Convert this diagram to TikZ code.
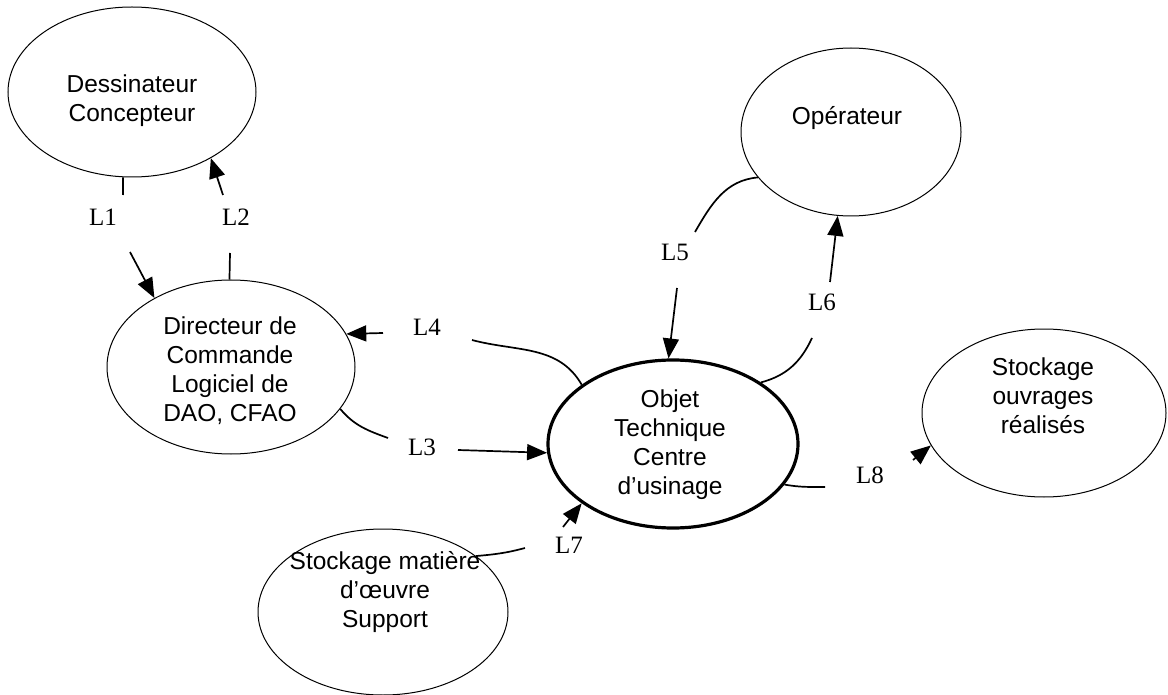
\documentclass[tikz,border=0pt]{standalone}
\usepackage{fontspec}
\setmainfont{Liberation Serif}
\newfontfamily\arialfont{Liberation Sans}
\usetikzlibrary{shapes.geometric,arrows.meta}

\begin{document}
\begin{tikzpicture}[x=1pt,y=-1pt,
  actor/.style={draw,ellipse,line width=1pt,inner sep=0pt},
  mainobj/.style={draw,ellipse,line width=3.2pt,inner sep=0pt},
  txt/.style={align=center,font=\arialfont\fontsize{24.5}{29}\selectfont,inner sep=0pt},
  lbl/.style={font=\fontsize{25}{25}\selectfont,inner sep=0pt},
  link/.style={line width=1.7pt},
  arr/.style={line width=1.7pt,-{Triangle[length=20pt,width=16pt]}}]
  \useasboundingbox (0,0) rectangle (1168,695);

  % external elements and the technical object
  \node[actor,minimum width=248pt,minimum height=170pt] (des) at (132,92) {};
  \node[actor,minimum width=248pt,minimum height=174pt] (dir) at (231,367) {};
  \node[actor,minimum width=220pt,minimum height=168pt] (ope) at (851,132) {};
  \node[mainobj,minimum width=250pt,minimum height=168pt] (obj) at (673,444) {};
  \node[actor,minimum width=244pt,minimum height=168pt] (sto) at (1044,413) {};
  \node[actor,minimum width=250pt,minimum height=166pt] (mat) at (383,612) {};

  \node[txt] (tdes) at (132,101) {Dessinateur\\Concepteur};
  \node[txt] (tdir) at (230,371) {Directeur de\\Commande\\Logiciel de\\DAO, CFAO};
  \node[txt] (tope) at (847,118) {Opérateur};
  \node[txt] (tobj) at (670,445) {Objet\\Technique\\Centre\\d’usinage};
  \node[txt] (tsto) at (1043,396) {Stockage\\ouvrages\\réalisés};
  \node[txt] (tmat) at (385,592) {Stockage matière\\d’œuvre\\Support};

  % flow labels
  \node[lbl] (l1) at (103,217) {L1};
  \node[lbl] (l2) at (236,217) {L2};
  \node[lbl] (l3) at (422,447) {L3};
  \node[lbl] (l4) at (427,327) {L4};
  \node[lbl] (l5) at (675,252) {L5};
  \node[lbl] (l6) at (822,302) {L6};
  \node[lbl] (l7) at (569,545) {L7};
  \node[lbl] (l8) at (870,475) {L8};

  % free ends of the interrupted flows
  \coordinate (l1a) at (123,195);
  \coordinate (l1b) at (130,252);
  \coordinate (l2a) at (230,253);
  \coordinate (l2b) at (223,195);
  \coordinate (l3a) at (388,438);
  \coordinate (l3b) at (458,450);
  \coordinate (l4a) at (472,340);
  \coordinate (l4b) at (383,333);
  \coordinate (l5a) at (695,232);
  \coordinate (l5b) at (677,288);
  \coordinate (l6a) at (812,338);
  \coordinate (l6b) at (830,282);
  \coordinate (l7a) at (525,548);
  \coordinate (l7b) at (563,527);
  \coordinate (l8a) at (825,487);
  \coordinate (l8b) at (913,460);

  % L1: designer -> controller
  \draw[link] (des.-96) -- (l1a);
  \draw[arr] (l1b) -- (dir.138);
  % L2: controller -> designer
  \draw[link] (dir.91) -- (l2a);
  \draw[arr] (l2b) -- (des.-40);
  % L3: controller -> machining centre
  \draw[link] (dir.-21) to[out=-50,in=160] (l3a);
  \draw[arr] (l3b) -- (obj.-176);
  % L4: machining centre -> controller
  \draw[link] (obj.147) to[out=120,in=-15] (l4a);
  \draw[arr] (l4b) -- (dir.16);
  % L5: operator -> machining centre
  \draw[link] (ope.-154) to[out=185,in=60] (l5a);
  \draw[arr] (l5b) -- (obj.93);
  % L6: machining centre -> operator
  \draw[link] (obj.35) to[out=15,in=-115] (l6a);
  \draw[arr] (l6b) -- (ope.-99);
  % L7: raw material store -> machining centre
  \draw[link] (mat.31) to[out=5,in=195] (l7a);
  \draw[arr] (l7b) -- (obj.-147);
  % L8: machining centre -> finished parts store
  \draw[link] (obj.-20) to[out=-10,in=180] (l8a);
  \draw[arr] (l8b) -- (sto.-164);
\end{tikzpicture}
\end{document}
